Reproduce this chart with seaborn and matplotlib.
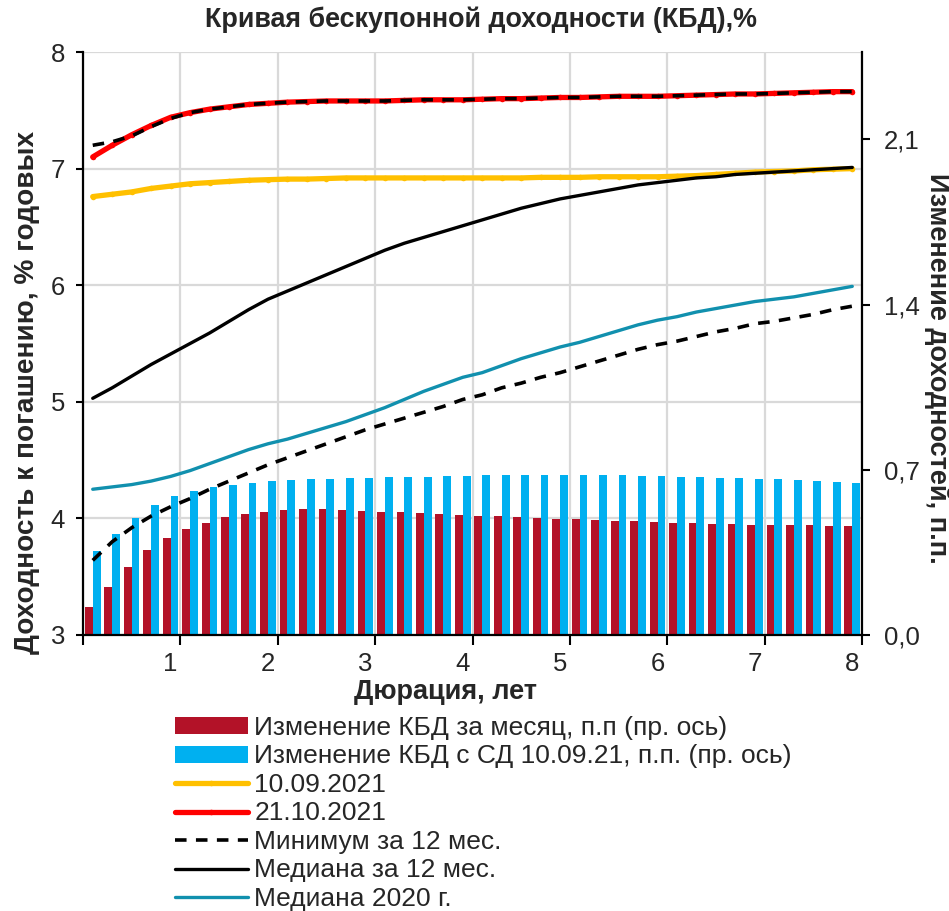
import matplotlib
matplotlib.use("Agg")
import matplotlib.pyplot as plt
from matplotlib import font_manager
from matplotlib.ticker import NullFormatter
import pandas as pd
import seaborn as sns

# Durations (years) of the curve points, one bar group per point
durations = [0.2, 0.4, 0.6, 0.8, 1.0, 1.2, 1.4, 1.6, 1.8, 2.0,
             2.2, 2.4, 2.6, 2.8, 3.0, 3.2, 3.4, 3.6, 3.8, 4.0,
             4.2, 4.4, 4.6, 4.8, 5.0, 5.2, 5.4, 5.6, 5.8, 6.0,
             6.2, 6.4, 6.6, 6.8, 7.0, 7.2, 7.4, 7.6, 7.8, 8.0]

# Bars, right axis (p.p.)
chg_month = [0.117, 0.202, 0.287, 0.361, 0.412, 0.448, 0.476, 0.498, 0.512, 0.522,
             0.529, 0.532, 0.532, 0.530, 0.526, 0.523, 0.520, 0.516, 0.513, 0.509,
             0.506, 0.503, 0.501, 0.496, 0.492, 0.491, 0.487, 0.484, 0.481, 0.478,
             0.475, 0.474, 0.471, 0.470, 0.468, 0.467, 0.465, 0.464, 0.462, 0.462]
chg_sd = [0.355, 0.427, 0.496, 0.550, 0.587, 0.611, 0.625, 0.636, 0.645, 0.653,
          0.658, 0.662, 0.663, 0.666, 0.667, 0.669, 0.669, 0.670, 0.672, 0.673,
          0.676, 0.677, 0.677, 0.677, 0.677, 0.677, 0.677, 0.676, 0.675, 0.673,
          0.670, 0.669, 0.667, 0.665, 0.662, 0.659, 0.656, 0.653, 0.649, 0.645]

# Curves, left axis (% p.a.)
curve_0910 = [6.76, 6.78, 6.80, 6.83, 6.85, 6.87, 6.88, 6.89, 6.90, 6.905,
              6.91, 6.91, 6.915, 6.92, 6.92, 6.92, 6.92, 6.92, 6.92, 6.92,
              6.92, 6.92, 6.92, 6.925, 6.925, 6.925, 6.93, 6.93, 6.93, 6.93,
              6.935, 6.94, 6.95, 6.96, 6.97, 6.975, 6.98, 6.99, 6.995, 7.00]
curve_2110 = [7.10, 7.20, 7.29, 7.37, 7.44, 7.48, 7.51, 7.53, 7.55, 7.56,
              7.57, 7.575, 7.58, 7.58, 7.58, 7.58, 7.585, 7.59, 7.59, 7.59,
              7.595, 7.60, 7.60, 7.605, 7.61, 7.61, 7.615, 7.62, 7.62, 7.62,
              7.625, 7.63, 7.635, 7.64, 7.64, 7.645, 7.65, 7.655, 7.66, 7.66]
max_12m = [7.20, 7.23, 7.28, 7.36, 7.43, 7.48, 7.51, 7.53, 7.55, 7.56,
           7.57, 7.575, 7.58, 7.58, 7.58, 7.58, 7.585, 7.59, 7.59, 7.59,
           7.595, 7.60, 7.60, 7.605, 7.61, 7.61, 7.615, 7.62, 7.62, 7.62,
           7.625, 7.63, 7.635, 7.64, 7.64, 7.645, 7.65, 7.655, 7.66, 7.66]
min_12m = [3.64, 3.80, 3.92, 4.02, 4.10, 4.17, 4.25, 4.32, 4.39, 4.46,
           4.52, 4.58, 4.64, 4.70, 4.76, 4.81, 4.86, 4.91, 4.96, 5.02,
           5.06, 5.12, 5.16, 5.21, 5.25, 5.30, 5.35, 5.40, 5.45, 5.49,
           5.52, 5.56, 5.60, 5.63, 5.67, 5.69, 5.72, 5.75, 5.79, 5.82]
median_12m = [5.03, 5.12, 5.22, 5.32, 5.41, 5.50, 5.59, 5.69, 5.79, 5.88,
              5.95, 6.02, 6.09, 6.16, 6.23, 6.30, 6.36, 6.41, 6.46, 6.51,
              6.56, 6.61, 6.66, 6.70, 6.74, 6.77, 6.80, 6.83, 6.86, 6.88,
              6.90, 6.92, 6.93, 6.95, 6.96, 6.97, 6.98, 6.99, 7.00, 7.01]
median_2020 = [4.25, 4.27, 4.29, 4.32, 4.36, 4.41, 4.47, 4.53, 4.59, 4.64,
               4.68, 4.73, 4.78, 4.83, 4.89, 4.95, 5.02, 5.09, 5.15, 5.21,
               5.25, 5.31, 5.37, 5.42, 5.47, 5.51, 5.56, 5.61, 5.66, 5.70,
               5.73, 5.77, 5.80, 5.83, 5.86, 5.88, 5.90, 5.93, 5.96, 5.99]

x_tick_labels = ["1", "2", "3", "4", "5", "6", "7", "8"]
left_ticks = [3, 4, 5, 6, 7, 8]
right_ticks = [0.0, 0.7, 1.4, 2.1]
right_tick_labels = ["0,0", "0,7", "1,4", "2,1"]

lbl_month = "Изменение КБД за месяц, п.п (пр. ось)"
lbl_sd = "Изменение КБД с СД 10.09.21, п.п. (пр. ось)"

sns.set_style("white")
available = {f.name for f in font_manager.fontManager.ttflist}
narrow = "Liberation Sans Narrow" if "Liberation Sans Narrow" in available else "Liberation Sans"
plt.rcParams["font.family"] = ["Liberation Sans", "DejaVu Sans"]

fig = plt.figure(figsize=(9.49, 9.11), dpi=100)
rect = [83 / 949, 1 - 635 / 911, (862 - 83) / 949, (635 - 52) / 911]
ax = fig.add_axes(rect)      # grid + left ticks
axb = ax.twinx()             # bars, right axis
axl = ax.twinx()             # curves, left scale

pos = list(range(len(durations)))
n = len(pos)

# bars
bars = pd.DataFrame({
    "pos": pos + pos,
    "series": [lbl_month] * n + [lbl_sd] * n,
    "val": chg_month + chg_sd,
})
sns.barplot(data=bars, x="pos", y="val", hue="series", hue_order=[lbl_month, lbl_sd],
            palette=["#B31228", "#00B0F0"], saturation=1, width=0.8, errorbar=None,
            linewidth=0, ax=axb)
bar_leg = axb.get_legend()
bar_handles = bar_leg.legend_handles
bar_labels = [t.get_text() for t in bar_leg.get_texts()]
bar_leg.remove()

# curves
sns.lineplot(x=pos, y=curve_0910, color="#FFC000", lw=3.8, marker="o", markersize=4,
             markeredgewidth=0, label="10.09.2021", ax=axl)
sns.lineplot(x=pos, y=curve_2110, color="#FF0000", lw=3.8, marker="o", markersize=4,
             markeredgewidth=0, label="21.10.2021", ax=axl)
sns.lineplot(x=pos, y=max_12m, color="black", lw=2.6, linestyle=(0, (3.2, 2.6)),
             label="_nolegend_", ax=axl)
sns.lineplot(x=pos, y=min_12m, color="black", lw=2.6, linestyle=(0, (3.2, 2.6)),
             label="Минимум за 12 мес.", ax=axl)
sns.lineplot(x=pos, y=median_12m, color="black", lw=2.4,
             label="Медиана за 12 мес.", ax=axl)
sns.lineplot(x=pos, y=median_2020, color="#1190AE", lw=2.4,
             label="Медиана 2020 г.", ax=axl)
line_handles, line_labels = axl.get_legend_handles_labels()
if axl.get_legend() is not None:
    axl.get_legend().remove()

# x axis: ticks on group boundaries, labels on the integer-duration groups
label_pos = [durations.index(float(t)) for t in x_tick_labels]
ax.set_xlim(-0.5, n - 0.5)
ax.set_xticks([-0.5] + [p + 0.5 for p in label_pos])
ax.xaxis.set_major_formatter(NullFormatter())
ax.set_xticks(label_pos, labels=x_tick_labels, minor=True)
ax.tick_params(axis="x", which="major", direction="out", length=7, width=1.5,
               color="black", bottom=True)
ax.tick_params(axis="x", which="minor", length=0, labelsize=18.5, pad=12)
for t in ax.get_xticklabels(minor=True):
    t.set_fontfamily(narrow)

# left axis
ax.set_ylim(3, 8)
ax.set_yticks(left_ticks)
ax.set_yticklabels([str(v) for v in left_ticks])
ax.tick_params(axis="y", direction="out", length=5, width=1.5, color="black",
               labelsize=18.5, pad=8, left=True)
ax.grid(True, which="major", color="#D9D9D9", lw=1.6)
ax.set_axisbelow(True)

# right axis
axb.set_ylim(0, 2.47)
axb.set_yticks(right_ticks)
axb.set_yticklabels(right_tick_labels)
axb.tick_params(axis="y", direction="out", length=6, width=1.5, color="black",
                labelsize=18.5, pad=10, right=True)
axb.set_ylabel("")
axb.set_xlabel("")
axb.grid(False)

axl.set_ylim(3, 8)
axl.yaxis.set_visible(False)
axl.grid(False)

for a in (ax, axb):
    for s in a.spines.values():
        s.set_visible(False)
for side in ("left", "right", "bottom"):
    axl.spines[side].set_visible(True)
    axl.spines[side].set_color("black")
    axl.spines[side].set_linewidth(1.6)
axl.spines["top"].set_visible(False)

ax.set_xlabel("")
ax.set_ylabel("")

fig.text(445 / 949, 1 - 692 / 911, "Дюрация, лет", ha="center", va="center",
         fontsize=19.5, fontweight="bold")
fig.text(27 / 949, 1 - 392 / 911, "Доходность к погашению, % годовых", rotation=90,
         ha="center", va="center", fontsize=20.2, fontweight="bold")
fig.text(937 / 949, 1 - 368 / 911, "Изменение доходностей, п.п.", rotation=270,
         ha="center", va="center", fontsize=19.5, fontweight="bold")
fig.text(481 / 949, 1 - 20 / 911, "Кривая бескупонной доходности (КБД),%",
         ha="center", va="center", fontsize=19.4, fontweight="bold", fontfamily=narrow)

fig.legend(bar_handles + line_handles, bar_labels + line_labels,
           loc="upper left", bbox_to_anchor=(175 / 949, 1 - 716 / 911),
           frameon=False, fontsize=19, handlelength=2.75, handleheight=0.6,
           handletextpad=0.25, labelspacing=0.17, borderpad=0, borderaxespad=0)

fig.savefig("out.png", dpi=100)
